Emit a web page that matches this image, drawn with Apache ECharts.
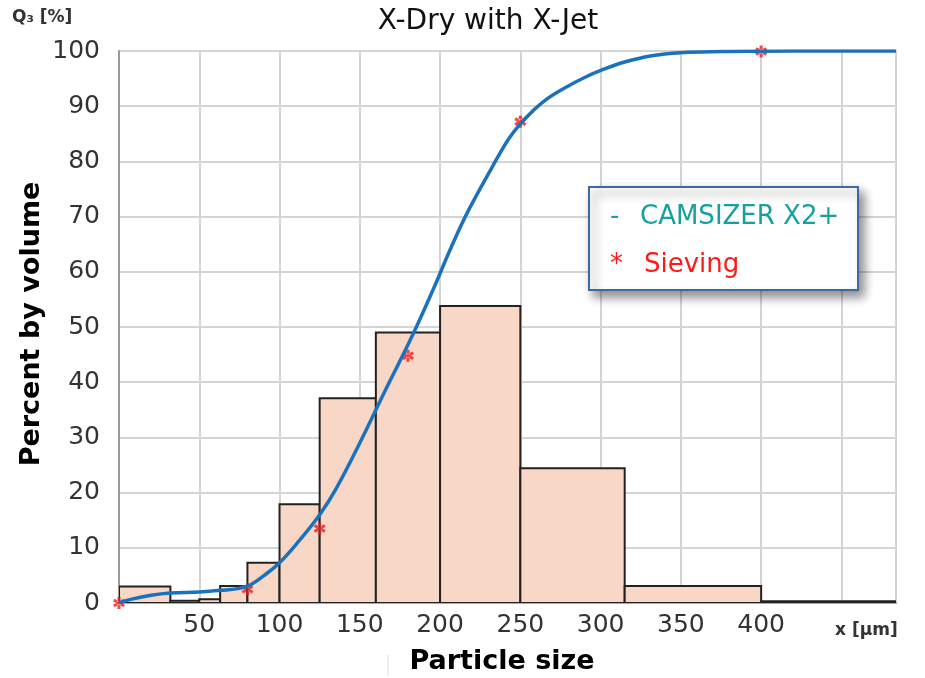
<!DOCTYPE html>
<html><head><meta charset="utf-8">
<script src="https://cdn.jsdelivr.net/npm/echarts@6/dist/echarts.min.js"></script>
<style>html,body{margin:0;padding:0;background:#fff}#c{width:925px;height:678px}</style>
</head><body><div id="c"></div>
<script>
// Histogram (class widths in µm, q3 as % of volume)
const binEdges = [0, 32, 50, 63, 80, 100, 125, 160, 200, 250, 315, 400, 484];
const binValues = [3.0, 0.4, 0.7, 3.1, 7.3, 17.9, 37.1, 49.0, 53.8, 24.4, 3.1, 0.3];
// CAMSIZER X2+ cumulative curve Q3
const curveX = [0, 8, 20, 32, 50, 63, 74, 82, 90, 100, 112, 125, 135, 150, 166, 182, 196, 207, 218, 236, 243, 250, 258, 266, 277, 290, 302, 315, 331, 350, 375, 400, 440, 484];
const curveY = [0, 0.7, 1.4, 1.8, 2.0, 2.3, 2.6, 3.3, 4.9, 7.3, 11.2, 16.0, 20.6, 29.0, 38.6, 48.0, 57.0, 64.5, 71.3, 80.8, 84.2, 86.8, 89.2, 91.2, 93.2, 95.2, 96.7, 98.0, 99.1, 99.7, 99.9, 99.95, 100, 100];
// Sieving points
const sieveX = [0, 80, 125, 180, 250, 400];
const sieveY = [0, 2.5, 13.5, 44.8, 87.2, 99.9];
// Tick labels
const xTicks = [50, 100, 150, 200, 250, 300, 350, 400];
const yTicks = [0, 10, 20, 30, 40, 50, 60, 70, 80, 90, 100];

const FONT = '"DejaVu Sans", Verdana, sans-serif';
const chart = echarts.init(document.getElementById('c'), null, {renderer: 'canvas'});

const asterisk = 'path://M-1.3,-5L1.3,-5L1.3,5L-1.3,5Z M3.7,3.6L5,1.4L-3.7,-3.6L-5,-1.4Z M-5,1.4L-3.7,3.6L5,-1.4L3.7,-3.6Z';

chart.setOption({
  animation: false,
  backgroundColor: '#fff',
  grid: {left: 119, right: 29, top: 51, bottom: 75, show: true, borderColor: '#d0d0d0', borderWidth: 2},
  xAxis: {
    type: 'value', min: 0, max: 484, interval: 50,
    axisLine: {show: true, lineStyle: {color: '#aaa', width: 2}},
    axisTick: {show: false},
    splitLine: {show: true, lineStyle: {color: '#d4d4d4', width: 2}},
    axisLabel: {
      margin: 10, fontSize: 25, color: '#333', fontFamily: FONT,
      showMaxLabel: false, showMinLabel: true,
      formatter: v => xTicks.includes(v) ? String(v) : ''
    }
  },
  yAxis: {
    type: 'value', min: 0, max: 100, interval: 10,
    axisLine: {show: true, lineStyle: {color: '#999', width: 2}},
    axisTick: {show: false},
    splitLine: {show: true, lineStyle: {color: '#d4d4d4', width: 2}},
    axisLabel: {
      margin: 19, fontSize: 25, color: '#333', fontFamily: FONT,
      formatter: v => yTicks.includes(v) ? String(v) : ''
    }
  },
  series: [
    {
      type: 'custom',
      z: 2,
      clip: true,
      data: binValues.map((v, i) => [binEdges[i], binEdges[i + 1], v]),
      encode: {x: [0, 1], y: 2},
      renderItem: function (params, api) {
        const p0 = api.coord([api.value(0), 0]);
        const p1 = api.coord([api.value(1), api.value(2)]);
        return {
          type: 'rect',
          shape: {x: p0[0], y: p1[1], width: p1[0] - p0[0], height: p0[1] - p1[1]},
          style: {fill: '#f8d7c7', stroke: '#222', lineWidth: 2}
        };
      }
    },
    {
      type: 'scatter',
      z: 3,
      symbol: asterisk,
      symbolSize: 12,
      itemStyle: {color: '#ee1c1c'},
      data: sieveX.map((x, i) => [x, sieveY[i]])
    },
    {
      type: 'line',
      z: 4,
      smooth: 0.4,
      showSymbol: false,
      lineStyle: {color: '#1a72bd', width: 3.5},
      data: curveX.map((x, i) => [x, curveY[i]])
    }
  ],
  graphic: [
    {type: 'text', x: 488, y: 22, style: {text: 'X-Dry with X-Jet', font: '28px ' + FONT, fill: '#111', textAlign: 'center', textVerticalAlign: 'middle'}},
    {type: 'text', x: 12, y: 18, style: {text: 'Q₃ [%]', font: 'bold 17px ' + FONT, fill: '#333', textAlign: 'left', textVerticalAlign: 'middle'}},
    {type: 'text', x: 835, y: 631, style: {text: 'x [µm]', font: 'bold 17px ' + FONT, fill: '#333', textAlign: 'left', textVerticalAlign: 'middle'}},
    {type: 'text', x: 32, y: 324, rotation: Math.PI / 2, style: {text: 'Percent by volume', font: 'bold 27px ' + FONT, fill: '#000', textAlign: 'center', textVerticalAlign: 'middle'}},
    {type: 'text', x: 502, y: 662, style: {text: 'Particle size', font: 'bold 27px ' + FONT, fill: '#000', textAlign: 'center', textVerticalAlign: 'middle'}},
    {type: 'line', shape: {x1: 388, y1: 655, x2: 388, y2: 676}, style: {stroke: '#ddd', lineWidth: 1}},
    {type: 'rect', z: 100, shape: {x: 589, y: 187, width: 269, height: 103},
      style: {fill: '#ffffff', stroke: '#3c6aa0', lineWidth: 2, shadowBlur: 10, shadowOffsetX: 5, shadowOffsetY: 6, shadowColor: 'rgba(0,0,0,0.45)'}},
    {type: 'text', z: 101, x: 610, y: 217, style: {text: '-', font: '26px ' + FONT, fill: '#16a09e', textVerticalAlign: 'middle'}},
    {type: 'text', z: 101, x: 640, y: 217, style: {text: 'CAMSIZER X2+', font: '26px ' + FONT, fill: '#16a09e', textVerticalAlign: 'middle'}},
    {type: 'text', z: 101, x: 610, y: 265, style: {text: '*', font: '26px ' + FONT, fill: '#ff1a1a', textVerticalAlign: 'middle'}},
    {type: 'text', z: 101, x: 644, y: 265, style: {text: 'Sieving', font: '26px ' + FONT, fill: '#ff1a1a', textVerticalAlign: 'middle'}}
  ]
});
</script>
</body></html>
